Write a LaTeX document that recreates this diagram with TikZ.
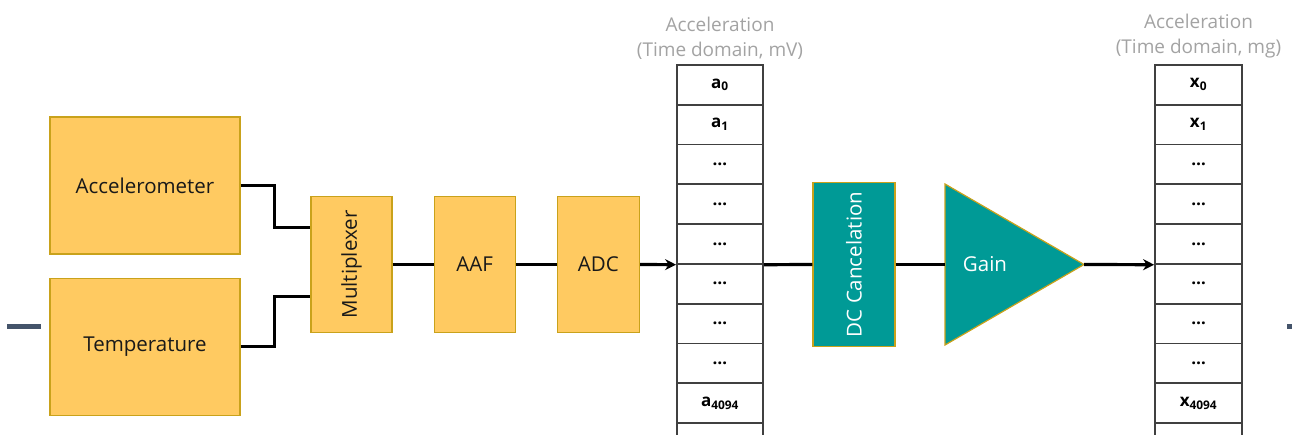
\documentclass[tikz,border=0pt]{standalone}
\usepackage{fontspec}
\setmainfont{Open Sans}
\usetikzlibrary{positioning, calc, arrows.meta}
\definecolor{boxyellow}{HTML}{FFCA61}
\definecolor{boxgold}{HTML}{C9A21B}
\definecolor{dcteal}{HTML}{009A96}
\definecolor{titlegray}{HTML}{A3A3A3}
\definecolor{markgray}{HTML}{44546A}

\begin{document}
\begin{tikzpicture}[x=1pt, y=-1pt, node distance=41pt]
		% styles
		\tikzstyle{ybox} = [rectangle, draw=boxgold, fill=boxyellow, line width=1.2pt, inner sep=0pt, text=black!90, text centered, font=\fontsize{20.5}{24}\selectfont]
		\tikzstyle{tbox} = [rectangle, draw=boxgold, fill=dcteal, line width=1.2pt, inner sep=0pt, text=white, font=\fontsize{20.5}{24}\selectfont]
		\tikzstyle{tri} = [draw=boxgold, fill=dcteal, line width=1.2pt]
		\tikzstyle{cell} = [rectangle, draw=black!75, line width=1.8pt, minimum width=86pt, minimum height=39.8pt, inner sep=0pt, font=\fontsize{17}{20}\selectfont\bfseries]
		\tikzstyle{title} = [align=center, inner sep=2pt, text=titlegray, font=\fontsize{19}{25}\selectfont]
		\tikzstyle{wire} = [draw=black, line width=3.2pt]
		\tikzstyle{arrow} = [wire, -{Stealth[length=11pt, width=11pt]}]
		\tikzstyle{edgemark} = [draw=markgray, line width=5pt]
		
		\clip (0,0) rectangle (1292,434);
		
		% sources and front end
		\node [ybox, minimum width=190pt, minimum height=137pt] (acc) at (145,185.5) {Accelerometer};
		\node [ybox, minimum width=190pt, minimum height=137pt, below=23pt of acc] (temp) {Temperature};
		\node [ybox, minimum width=81pt, minimum height=136pt] (mux) at (351.5,264.5) {\rotatebox{90}{Multiplexer}};
		\node [ybox, minimum width=81pt, minimum height=136pt, right=of mux] (aaf) {AAF};
		\node [ybox, minimum width=82pt, minimum height=136pt, right=of aaf] (adc) {ADC};
		
		% buffers
		\foreach \lab [count=\i from 0] in {a\textsubscript{0}, a\textsubscript{1}, …, …, …, …, …, …, a\textsubscript{4094}, {}}
			\node [cell] (a\i) at (720,{84.7+39.8*\i}) {\lab};
		\foreach \lab [count=\i from 0] in {x\textsubscript{0}, x\textsubscript{1}, …, …, …, …, …, …, x\textsubscript{4094}, {}}
			\node [cell, minimum width=87pt] (x\i) at (1198.5,{84.7+39.8*\i}) {\lab};
		\node [title, above=2pt of a0] (atitle) {Acceleration\\(Time domain, mV)};
		\node [title, above=4pt of x0] (xtitle) {Acceleration\\(Time domain, mg)};
		
		% processing
		\node [tbox, minimum width=82pt, minimum height=164pt] (dc) at (854,264.5) {\rotatebox{90}{DC Cancelation}};
		\coordinate (gin) at (945,264.5);
		\coordinate (gtip) at (1084,264.5);
		\draw [tri] (945,184) -- (gtip) -- (945,345) -- cycle;
		\node [text=white, font=\fontsize{20.5}{24}\selectfont] (gain) at (985,264.5) {Gain};
		
		% connectors
		\draw [wire] (acc.east) -- ++(34,0) |- ([yshift=37pt]mux.west);
		\draw [wire] (temp.east) -- ++(34,0) |- ([yshift=-32pt]mux.west);
		\draw [wire] (mux.east) -- (aaf.west);
		\draw [wire] (aaf.east) -- (adc.west);
		\draw [arrow] (adc.east) -- (a4.south west);
		\draw [wire] (a4.south east) -- (dc.west);
		\draw [wire] (dc.east) -- (gin);
		\draw [arrow] (gtip) -- (x4.south west);
		
		% side marks
		\draw [edgemark] (7,326) -- (41,326);
		\draw [edgemark] (1287,326) -- (1293,326);
\end{tikzpicture}
\end{document}
